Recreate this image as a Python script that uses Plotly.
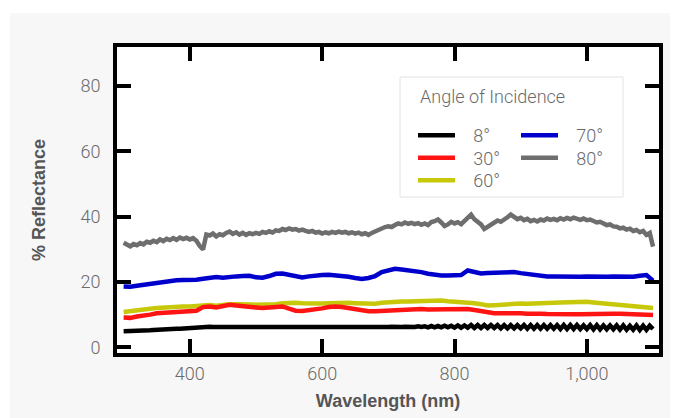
import plotly.graph_objects as go

# Wavelength grids (nm)
wl_10 = list(range(300, 1101, 10))
wl_5 = list(range(300, 1101, 5))

angle_labels = ["8°", "30°", "60°", "70°", "80°"]
line_colors = ["#000000", "#ff1414", "#c8c80a", "#0000cc", "#6e6e6e"]

# % reflectance, 8° incidence (5 nm steps)
refl_8 = [
    4.9, 4.9, 4.9, 5.0, 5.0, 5.0, 5.1, 5.1, 5.2, 5.3,
    5.4, 5.4, 5.5, 5.5, 5.6, 5.6, 5.7, 5.7, 5.8, 5.8,
    5.9, 5.9, 6.0, 6.1, 6.2, 6.3, 6.3, 6.2, 6.2, 6.1,
    6.1, 6.2, 6.1, 6.1, 6.2, 6.1, 6.1, 6.0, 6.1, 6.1,
    6.0, 6.1, 6.1, 6.0, 6.1, 6.1, 6.0, 6.0, 6.1, 6.0,
    6.0, 6.1, 6.0, 6.0, 6.0, 6.1, 6.0, 6.0, 5.9, 6.0,
    5.9, 6.0, 6.0, 5.9, 6.0, 6.0, 6.1, 6.0, 6.0, 6.1,
    6.0, 6.1, 6.1, 6.0, 6.1, 6.1, 6.2, 6.1, 6.2, 6.2,
    6.2, 6.3, 6.2, 6.3, 6.2, 6.3, 6.2, 6.4, 6.2, 6.4,
    6.2, 6.4, 6.1, 6.5, 6.1, 6.5, 6.1, 6.6, 6.1, 6.6,
    6.0, 6.7, 6.0, 6.7, 6.0, 6.8, 5.9, 6.8, 5.9, 6.8,
    5.9, 6.8, 5.9, 6.8, 5.8, 6.8, 5.8, 6.8, 5.8, 6.8,
    5.8, 6.8, 5.7, 6.8, 5.7, 6.8, 5.7, 6.8, 5.7, 6.8,
    5.7, 6.8, 5.6, 6.8, 5.6, 6.8, 5.6, 6.8, 5.6, 6.7,
    5.6, 6.8, 5.5, 6.8, 5.5, 6.7, 5.5, 6.7, 5.5, 6.7,
    5.4, 6.7, 5.4, 6.6, 5.4, 6.7, 5.3, 6.6, 5.3, 6.6,
    5.6,
]

# % reflectance, 30° incidence (10 nm steps)
refl_30 = [
    9.1, 9.0, 9.4, 9.6, 10.0, 10.4, 10.5, 10.8, 10.9, 11.0,
    11.1, 11.2, 12.3, 12.5, 12.2, 12.6, 13.0, 12.8, 12.5, 12.3,
    12.2, 12.0, 12.2, 12.4, 12.5, 11.8, 11.2, 11.1, 11.3, 11.6,
    11.9, 12.3, 12.5, 12.3, 12.0, 11.6, 11.2, 11.0, 11.0, 11.1,
    11.3, 11.5, 11.7, 11.6, 11.7, 11.7, 11.6, 11.6, 11.5, 11.6,
    11.7, 11.8, 11.7, 11.4, 11.0, 10.5, 10.4, 10.4, 10.5, 10.4,
    10.4, 10.3, 10.4, 10.3, 10.2, 10.1, 10.1, 10.0, 10.1, 10.1,
    10.2, 10.3, 10.3, 10.2, 10.3, 10.3, 10.2, 10.1, 10.1, 10.0,
    9.9,
]

# % reflectance, 60° incidence (10 nm steps)
refl_60 = [
    10.8, 11.1, 11.5, 11.6, 11.8, 12.0, 12.2, 12.3, 12.5, 12.5,
    12.5, 12.7, 13.0, 12.9, 12.7, 13.0, 13.2, 13.2, 13.3, 13.1,
    13.0, 13.0, 13.1, 13.2, 13.5, 13.7, 13.6, 13.5, 13.4, 13.4,
    13.4, 13.5, 13.6, 13.7, 13.6, 13.5, 13.4, 13.2, 13.3, 13.6,
    13.8, 13.8, 14.0, 14.0, 14.1, 14.3, 14.3, 14.3, 14.3, 14.1,
    14.0, 13.8, 13.7, 13.5, 13.2, 12.8, 12.9, 13.1, 13.3, 13.4,
    13.4, 13.3, 13.3, 13.4, 13.5, 13.6, 13.7, 13.8, 14.0, 14.0,
    13.9, 13.7, 13.5, 13.4, 13.3, 13.2, 13.0, 12.8, 12.6, 12.3,
    12.0,
]

# % reflectance, 70° incidence (10 nm steps)
refl_70 = [
    18.6, 18.5, 18.8, 19.1, 19.5, 19.9, 20.0, 20.3, 20.5, 20.6,
    20.5, 20.7, 21.0, 21.3, 21.5, 21.3, 21.6, 21.7, 21.8, 21.9,
    21.4, 21.3, 21.8, 22.5, 22.6, 22.1, 21.7, 21.4, 21.7, 22.0,
    22.1, 22.2, 22.1, 21.9, 21.6, 21.2, 20.9, 21.2, 21.8, 23.0,
    23.6, 24.0, 23.8, 23.6, 23.3, 23.0, 22.5, 22.2, 22.0, 22.0,
    22.0, 22.1, 23.5, 22.9, 22.6, 22.7, 22.8, 23.0, 23.2, 23.0,
    22.7, 22.4, 22.1, 21.8, 21.7, 21.7, 21.6, 21.5, 21.4, 21.6,
    21.7, 21.6, 21.7, 21.6, 21.7, 21.6, 21.7, 21.6, 21.9, 22.1,
    20.4,
]

# % reflectance, 80° incidence (5 nm steps)
refl_80 = [
    32.0, 31.4, 30.9, 31.6, 31.2, 31.9, 31.5, 32.3, 32.0, 32.6,
    32.2, 33.0, 32.5, 33.2, 32.8, 33.4, 32.9, 33.6, 33.1, 33.5,
    33.0, 33.4, 32.6, 31.0, 29.9, 34.5, 34.2, 34.8, 33.9, 34.6,
    34.3, 35.0, 35.4, 34.7, 35.2, 34.5, 35.0, 34.4, 34.9, 34.6,
    35.0, 34.7, 35.3, 35.0, 35.5, 35.1, 35.8, 35.6, 36.2, 35.9,
    36.4, 36.0, 36.2, 35.7, 36.0, 35.6, 35.3, 35.6, 35.1, 35.3,
    34.8, 35.2, 34.9, 35.3, 35.0, 35.4, 35.1, 35.3, 34.9, 35.2,
    34.8, 35.1, 34.6, 34.9, 34.4, 35.0, 35.5, 35.9, 36.5, 36.8,
    37.0, 36.8, 37.4, 37.9, 37.6, 38.2, 37.8, 38.1, 37.7, 38.0,
    37.5, 37.9, 37.4, 38.3, 38.6, 39.1, 38.2, 37.1, 37.6, 38.4,
    37.9, 38.3, 37.7, 38.6, 39.4, 40.6, 39.2, 38.5, 37.6, 36.2,
    36.9, 37.8, 38.2, 38.8, 38.4, 39.3, 39.8, 40.6, 39.9, 39.2,
    39.6, 38.9, 39.3, 38.6, 39.0, 38.5, 39.1, 38.8, 39.4, 39.0,
    39.3, 38.9, 39.5, 39.1, 39.6, 39.2, 39.7, 39.3, 39.0, 39.4,
    38.9, 39.1, 38.6, 38.2, 38.4, 37.8, 37.4, 37.6, 37.0, 36.9,
    36.4, 36.6, 36.0, 36.3, 35.6, 35.9, 35.2, 35.6, 34.4, 35.0,
    30.8,
]

x_ticks = [400, 600, 800, 1000]
y_ticks = [0, 20, 40, 60, 80]

LIGHT = "Roboto, 'Open Sans', 'Liberation Sans', sans-serif"
BOLD = "'Liberation Sans', Arial, sans-serif"
TEXT_GRAY = "#6a6a6a"
PAD = "\u00a0\u00a0\u00a0"

# plot area in pixels: left 117, right 659, top 47, bottom 353
W, H = 680, 418
L, R, T, B = 117, 21, 47, 65
PW, PH = W - L - R, H - T - B


def px_x(px):
    return (px - L) / PW


def px_y(py):
    return 1 - (py - T) / PH


series = [
    # (label index, x grid, values, legend row, rank within row)
    (0, wl_5, refl_8, "legend", 1),
    (2, wl_10, refl_60, "legend3", 1),
    (1, wl_10, refl_30, "legend2", 1),
    (3, wl_10, refl_70, "legend", 2),
    (4, wl_5, refl_80, "legend2", 2),
]

fig = go.Figure()
for idx, xs, ys, leg, rank in series:
    fig.add_trace(go.Scatter(
        x=xs, y=ys, mode="lines",
        name=PAD + angle_labels[idx],
        line=dict(color=line_colors[idx], width=4.5),
        legend=leg, legendrank=rank,
    ))

axis_common = dict(
    showline=True, linewidth=4, linecolor="black", mirror="ticks",
    ticks="inside", ticklen=14, tickwidth=4, tickcolor="black",
    showgrid=False, zeroline=False, automargin=False,
    tickfont=dict(family=LIGHT, size=18, color=TEXT_GRAY, weight=300),
)

# one horizontal legend per row, two fixed-width columns
legend_row = dict(
    bgcolor="rgba(0,0,0,0)", borderwidth=0, orientation="h",
    xanchor="left", yanchor="top", itemwidth=37,
    entrywidth=51, entrywidthmode="pixels",
    font=dict(family=LIGHT, size=18, color=TEXT_GRAY, weight=300),
    x=px_x(413),
)

fig.update_layout(
    width=W, height=H,
    margin=dict(l=L, r=R, t=T, b=B, autoexpand=False),
    paper_bgcolor="white", plot_bgcolor="white",
    xaxis=dict(
        range=[290, 1109], tickvals=x_ticks, tickformat=",d",
        ticklabelstandoff=1,
        title=dict(text="Wavelength (nm)", standoff=13,
                   font=dict(family=BOLD, size=18, color="#555555", weight="bold")),
        **axis_common,
    ),
    yaxis=dict(
        range=[-1.75, 91.9], tickvals=y_ticks,
        ticklabelstandoff=9,
        title=dict(text="% Reflectance", standoff=31,
                   font=dict(family=BOLD, size=18, color="#555555", weight="bold")),
        **axis_common,
    ),
    legend=dict(y=px_y(117), **legend_row),
    legend2=dict(y=px_y(139.5), **legend_row),
    legend3=dict(y=px_y(162), **legend_row),
    shapes=[
        # light panel behind the chart
        dict(type="rect", xref="paper", yref="paper", layer="below",
             x0=px_x(10), x1=px_x(670), y0=px_y(418), y1=px_y(13),
             fillcolor="#f7f7f7", line=dict(width=0)),
        # white plotting area
        dict(type="rect", xref="paper", yref="paper", layer="below",
             x0=0, x1=1, y0=0, y1=1, fillcolor="white", line=dict(width=0)),
        # legend frame
        dict(type="rect", xref="paper", yref="paper", layer="below",
             x0=px_x(400), x1=px_x(623), y0=px_y(197), y1=px_y(77),
             fillcolor="white", line=dict(color="#e2e2e2", width=1)),
    ],
    annotations=[
        dict(text="Angle of Incidence", xref="paper", yref="paper",
             x=px_x(418), y=px_y(96), xanchor="left", yanchor="middle",
             showarrow=False,
             font=dict(family=LIGHT, size=18, color=TEXT_GRAY, weight=300)),
    ],
)

fig.write_html("out.html")
